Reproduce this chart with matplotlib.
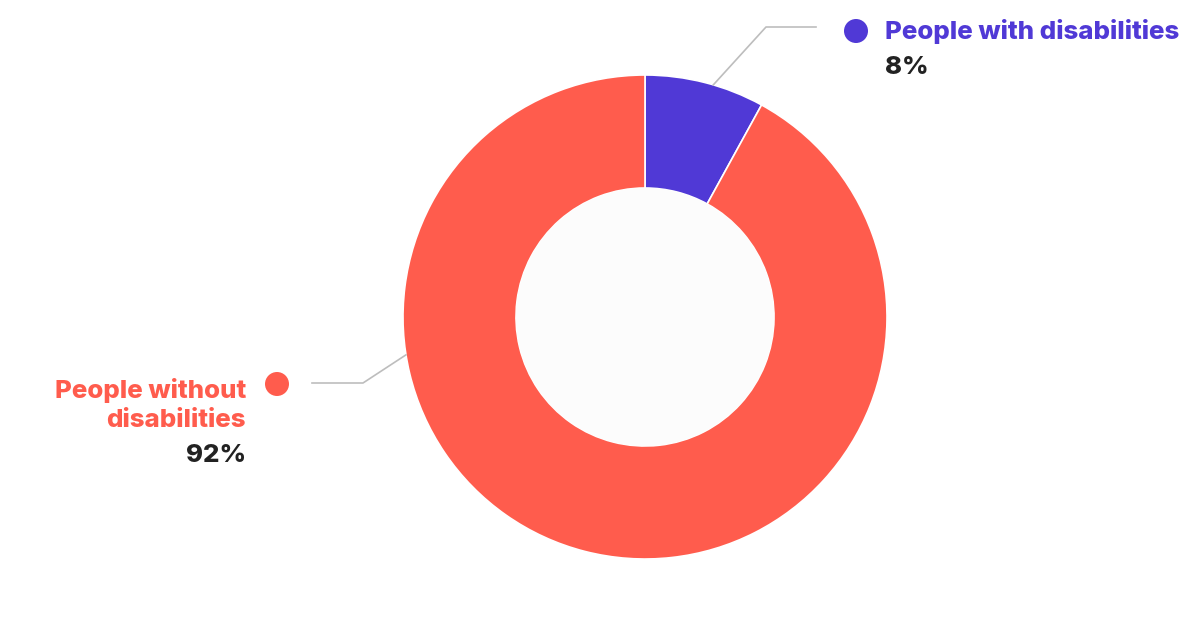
import numpy as np
import matplotlib.pyplot as plt

####################################################
# Data
####################################################
labels = ['People with disabilities', 'People without\ndisabilities']
values = [8, 92]
pct_labels = ['8%', '92%']
colors = ['#5039d6', '#ff5c4d']

####################################################
# Layout (pixel space, y measured from top)
####################################################
W, H = 1202, 634
cx, cy = 645, 317
r_out = 242
r_in = 129

plt.rcParams['font.family'] = ['Inter', 'DejaVu Sans']

fig = plt.figure(figsize=(W / 100, H / 100), dpi=100)
fig.patch.set_facecolor('white')
ax = fig.add_axes([0, 0, 1, 1])

def py(y):
    return H - y

ax.pie(values, colors=colors, startangle=90, counterclock=False,
       center=(cx, py(cy)), radius=r_out, frame=True,
       wedgeprops=dict(width=r_out - r_in, edgecolor='white', linewidth=1.2))
ax.add_patch(plt.Circle((cx, py(cy)), r_in, color='#fcfcfc', zorder=3, lw=0))
ax.set_xlim(0, W)
ax.set_ylim(0, H)
ax.set_aspect('equal')
ax.axis('off')

line_col = '#bdbdbd'
fs = 18.6
fw = 'heavy'

# leader for people with disabilities
a = np.deg2rad(90 - 360 * values[0] / 100 / 2 - 2)
x0, y0 = cx + r_out * np.cos(a), cy - r_out * np.sin(a)
ax.plot([x0, 766, 816], [py(y0), py(27), py(27)], color=line_col, lw=1.2, zorder=4)
ax.add_patch(plt.Circle((856, py(31)), 12, color=colors[0], zorder=5, lw=0))
ax.text(885, py(32), labels[0], color=colors[0], fontsize=fs, fontweight=fw,
        ha='left', va='center')
ax.text(885, py(68), pct_labels[0], color='#222222', fontsize=fs, fontweight=fw,
        ha='left', va='center')

# leader for people without disabilities
a = np.deg2rad(189)
x0, y0 = cx + r_out * np.cos(a), cy - r_out * np.sin(a)
ax.plot([x0, 363, 312], [py(y0), py(383), py(383)], color=line_col, lw=1.2, zorder=4)
ax.add_patch(plt.Circle((277, py(384)), 12, color=colors[1], zorder=5, lw=0))
ax.text(246, py(405), labels[1], color=colors[1], fontsize=fs, fontweight=fw,
        ha='right', va='center', linespacing=1.3)
ax.text(246, py(455), pct_labels[1], color='#222222', fontsize=fs, fontweight=fw,
        ha='right', va='center')

plt.savefig('out.png', dpi=100, facecolor=fig.get_facecolor())
